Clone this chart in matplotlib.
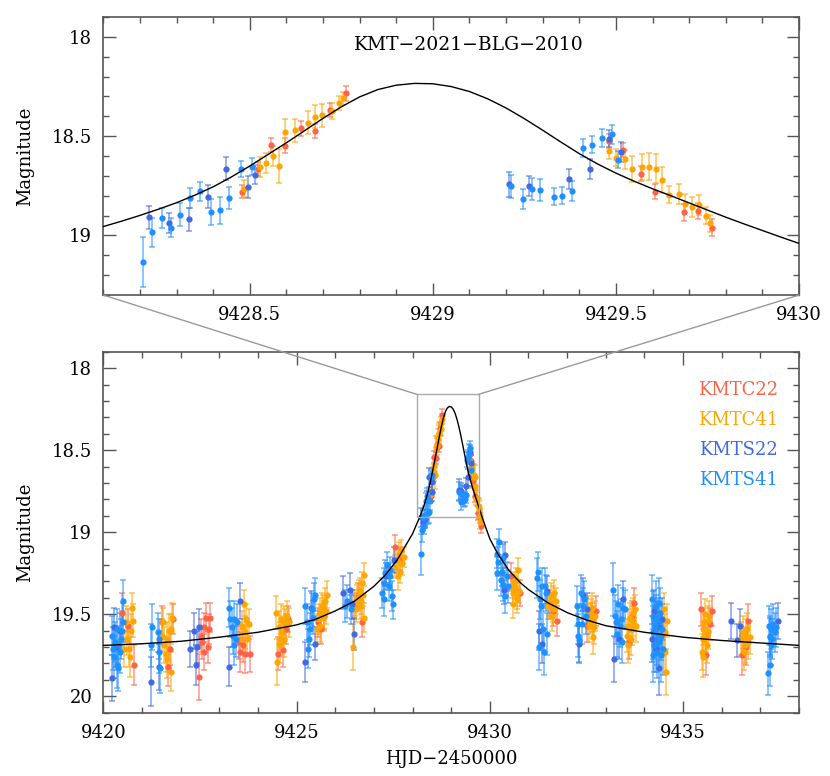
import matplotlib.pyplot as plt
from matplotlib.patches import Rectangle, ConnectionPatch
from matplotlib.ticker import MultipleLocator, FormatStrFormatter

plt.rcParams['font.family'] = 'DejaVu Serif'
plt.rcParams['font.size'] = 13

# ---- photometry (HJD-2450000, mag, err) ----
# KMTC22
C22_T = [9420.49, 9420.636, 9420.791,
         9421.515, 9421.67, 9421.722, 9421.808,
         9422.471, 9422.514, 9422.557, 9422.6, 9422.617, 9422.652, 9422.704, 9422.729, 9422.772,
         9423.505, 9423.547, 9423.616, 9423.677, 9423.789,
         9424.521, 9424.65, 9424.719, 9424.771,
         9425.546, 9425.632, 9425.718,
         9426.494, 9426.589, 9426.692,
         9427.536, 9427.665,
         9428.480, 9428.523, 9428.559, 9428.595, 9428.641, 9428.677, 9428.718, 9428.763,
         9429.480, 9429.520, 9429.568, 9429.607, 9429.686, 9429.724, 9429.763,
         9430.542, 9430.783,
         9431.558, 9431.645, 9431.731,
         9432.523, 9432.652, 9432.747,
         9433.608, 9433.668, 9433.729,
         9435.46, 9435.589, 9435.693, 9435.736,
         9436.528, 9436.623, 9436.683]
C22_M = [19.49, 19.57, 19.81,
         19.55, 19.82, 19.71, 19.53,
         19.88, 19.63, 19.67, 19.73, 19.58, 19.52, 19.70, 19.59, 19.52,
         19.67, 19.73, 19.69, 19.74, 19.74,
         19.74, 19.72, 19.59, 19.53,
         19.55, 19.59, 19.51,
         19.45, 19.39, 19.55,
         19.09, 19.16,
         18.779, 18.665, 18.544, 18.548, 18.460, 18.474, 18.368, 18.284,
         18.524, 18.569, 18.688, 18.779, 18.884, 18.876, 18.961,
         19.27, 19.37,
         19.45, 19.48, 19.54,
         19.57, 19.52, 19.48,
         19.67, 19.51, 19.43,
         19.47, 19.75, 19.56, 19.48,
         19.75, 19.70, 19.54]
C22_E = [0.12, 0.10, 0.12,
         0.10, 0.12, 0.10, 0.09,
         0.14, 0.10, 0.10, 0.11, 0.09, 0.09, 0.10, 0.09, 0.09,
         0.10, 0.12, 0.10, 0.12, 0.11,
         0.10, 0.10, 0.09, 0.08,
         0.09, 0.09, 0.08,
         0.08, 0.08, 0.09,
         0.07, 0.07,
         0.033, 0.033, 0.037, 0.037, 0.037, 0.037, 0.037, 0.037,
         0.037, 0.037, 0.037, 0.037, 0.042, 0.042, 0.042,
         0.08, 0.08,
         0.08, 0.09, 0.09,
         0.10, 0.09, 0.09,
         0.10, 0.09, 0.09,
         0.10, 0.12, 0.10, 0.09,
         0.12, 0.11, 0.10]

# KMTC41
C41_T = [9420.533, 9420.576, 9420.619, 9420.662, 9420.688, 9420.705, 9420.748, 9420.774,
         9421.524, 9421.55, 9421.567, 9421.61, 9421.636, 9421.653, 9421.696, 9421.739, 9421.756, 9421.782,
         9423.565, 9423.591, 9423.634, 9423.677, 9423.703, 9423.72, 9423.763,
         9424.478, 9424.495, 9424.538, 9424.564, 9424.581, 9424.607, 9424.624, 9424.667, 9424.685, 9424.71, 9424.753, 9424.797,
         9425.529, 9425.572, 9425.598, 9425.615, 9425.658, 9425.684, 9425.701, 9425.744, 9425.77, 9425.787,
         9426.459, 9426.52, 9426.545, 9426.563, 9426.606, 9426.631, 9426.649, 9426.674, 9426.692, 9426.718, 9426.735, 9426.752,
         9427.553, 9427.596, 9427.613, 9427.639, 9427.682, 9427.699, 9427.725, 9427.768,
         9428.483, 9428.527, 9428.544, 9428.562, 9428.580, 9428.597, 9428.624, 9428.660, 9428.679, 9428.696, 9428.724, 9428.744, 9428.755,
         9429.482, 9429.501, 9429.524, 9429.543, 9429.571, 9429.591, 9429.608, 9429.625, 9429.644, 9429.671, 9429.689, 9429.709, 9429.728, 9429.745, 9429.756,
         9430.568, 9430.594, 9430.611, 9430.628, 9430.654, 9430.68, 9430.697, 9430.714, 9430.74, 9430.766,
         9431.515, 9431.541, 9431.584, 9431.601, 9431.627, 9431.645, 9431.67, 9431.688, 9431.713,
         9432.549, 9432.575, 9432.592, 9432.609, 9432.635, 9432.661, 9432.678, 9432.704, 9432.721,
         9433.539, 9433.565, 9433.582, 9433.625, 9433.642, 9433.668, 9433.694, 9433.711, 9433.755, 9433.78,
         9434.504, 9434.53, 9434.539, 9434.556, 9434.573,
         9435.477, 9435.503, 9435.52, 9435.525, 9435.546, 9435.563, 9435.572, 9435.589, 9435.606, 9435.632, 9435.65, 9435.675,
         9436.511, 9436.554, 9436.571, 9436.597, 9436.64, 9436.657, 9436.683, 9436.726]
C41_M = [19.71, 19.55, 19.65, 19.71, 19.76, 19.60, 19.46, 19.54,
         19.63, 19.55, 19.69, 19.74, 19.77, 19.65, 19.60, 19.59, 19.85, 19.52,
         19.65, 19.57, 19.44, 19.61, 19.53, 19.65, 19.56,
         19.49, 19.79, 19.58, 19.69, 19.65, 19.53, 19.61, 19.54, 19.66, 19.56, 19.51, 19.55,
         19.59, 19.53, 19.57, 19.49, 19.45, 19.46, 19.51, 19.42, 19.48, 19.38,
         19.70, 19.43, 19.47, 19.40, 19.37, 19.45, 19.35, 19.42, 19.31, 19.38, 19.26, 19.52,
         19.21, 19.17, 19.27, 19.13, 19.24, 19.11, 19.19, 19.15,
         18.765, 18.653, 18.636, 18.598, 18.650, 18.480, 18.469, 18.432, 18.403, 18.395, 18.373, 18.333, 18.310,
         18.574, 18.608, 18.616, 18.666, 18.655, 18.653, 18.663, 18.720, 18.795, 18.792, 18.840, 18.857, 18.846, 18.901, 18.938,
         19.33, 19.44, 19.37, 19.31, 19.34, 19.29, 19.39, 19.41, 19.23, 19.36,
         19.45, 19.43, 19.39, 19.51, 19.47, 19.41, 19.37, 19.46, 19.42,
         19.48, 19.57, 19.53, 19.50, 19.46, 19.55, 19.64, 19.58, 19.51,
         19.63, 19.69, 19.57, 19.52, 19.65, 19.59, 19.49, 19.54, 19.47, 19.57,
         19.47, 19.73, 19.61, 19.85, 19.54,
         19.73, 19.65, 19.59, 19.76, 19.55, 19.50, 19.66, 19.63, 19.69, 19.54, 19.61, 19.51,
         19.65, 19.61, 19.73, 19.69, 19.63, 19.59, 19.67, 19.64]
C41_E = [0.11, 0.10, 0.10, 0.11, 0.12, 0.10, 0.09, 0.10,
         0.10, 0.09, 0.11, 0.11, 0.12, 0.10, 0.10, 0.09, 0.12, 0.09,
         0.10, 0.09, 0.09, 0.10, 0.09, 0.10, 0.09,
         0.10, 0.14, 0.10, 0.11, 0.10, 0.09, 0.10, 0.09, 0.10, 0.09, 0.09, 0.09,
         0.09, 0.09, 0.10, 0.09, 0.08, 0.08, 0.09, 0.08, 0.08, 0.08,
         0.14, 0.08, 0.08, 0.08, 0.08, 0.08, 0.07, 0.08, 0.07, 0.07, 0.07, 0.09,
         0.07, 0.07, 0.08, 0.07, 0.07, 0.06, 0.07, 0.06,
         0.042, 0.050, 0.050, 0.050, 0.084, 0.067, 0.058, 0.058, 0.058, 0.058, 0.042, 0.033, 0.033,
         0.042, 0.042, 0.047, 0.064, 0.064, 0.067, 0.075, 0.064, 0.042, 0.050, 0.047, 0.050, 0.050, 0.042, 0.042,
         0.07, 0.08, 0.07, 0.07, 0.07, 0.07, 0.08, 0.08, 0.07, 0.07,
         0.08, 0.08, 0.08, 0.09, 0.08, 0.08, 0.08, 0.09, 0.08,
         0.09, 0.10, 0.09, 0.09, 0.09, 0.10, 0.10, 0.10, 0.09,
         0.10, 0.11, 0.10, 0.09, 0.10, 0.10, 0.09, 0.09, 0.09, 0.10,
         0.10, 0.12, 0.11, 0.14, 0.10,
         0.11, 0.10, 0.10, 0.12, 0.09, 0.09, 0.10, 0.10, 0.11, 0.09, 0.10, 0.09,
         0.10, 0.10, 0.11, 0.11, 0.10, 0.10, 0.10, 0.10]

# KMTS22
S22_T = [9420.232, 9420.275, 9420.318, 9420.43,
         9421.24, 9421.437,
         9422.23, 9422.342, 9422.385, 9422.428, 9422.488,
         9423.255, 9423.53,
         9425.227, 9425.383, 9425.486,
         9426.2, 9426.373, 9426.433, 9426.476,
         9427.321, 9427.51,
         9428.225, 9428.278, 9428.333, 9428.385, 9428.436, 9428.495, 9428.515,
         9429.208, 9429.262, 9429.372, 9429.428, 9429.481, 9429.513,
         9430.37, 9430.404,
         9431.283, 9431.343, 9431.489,
         9432.299, 9432.42, 9432.506,
         9433.212, 9433.35, 9433.436,
         9434.203, 9434.254, 9434.297, 9434.34, 9434.384, 9434.444,
         9436.227, 9436.382, 9436.485,
         9437.243, 9437.458]
S22_M = [19.89, 19.58, 19.70, 19.60,
         19.91, 19.82,
         19.71, 19.60, 19.81, 19.70, 19.58,
         19.82, 19.42,
         19.79, 19.46, 19.68,
         19.37, 19.35, 19.44, 19.62,
         19.27, 19.17,
         18.908, 18.939, 18.918, 18.804, 18.665, 18.755, 18.693,
         18.742, 18.750, 18.717, 18.666, 18.512, 18.579,
         19.35, 19.14,
         19.60, 19.68, 19.36,
         19.68, 19.38, 19.47,
         19.77, 19.65, 19.41,
         19.65, 19.48, 19.71, 19.57, 19.83, 19.53,
         19.54, 19.66, 19.57,
         19.64, 19.54]
S22_E = [0.14, 0.12, 0.12, 0.11,
         0.15, 0.14,
         0.11, 0.11, 0.12, 0.10, 0.11,
         0.12, 0.11,
         0.12, 0.10, 0.10,
         0.10, 0.10, 0.09, 0.10,
         0.08, 0.08,
         0.058, 0.050, 0.058, 0.058, 0.058, 0.055, 0.050,
         0.064, 0.050, 0.050, 0.050, 0.042, 0.050,
         0.09, 0.08,
         0.12, 0.12, 0.09,
         0.12, 0.10, 0.10,
         0.14, 0.12, 0.11,
         0.14, 0.13, 0.14, 0.14, 0.16, 0.13,
         0.11, 0.10, 0.10,
         0.12, 0.11]

# KMTS41
S41_T = [9420.215, 9420.249, 9420.275, 9420.309, 9420.344, 9420.361, 9420.378, 9420.387, 9420.421, 9420.447, 9420.473, 9420.499, 9420.516,
         9421.222, 9421.248, 9421.412, 9421.429, 9421.446, 9421.463,
         9423.246, 9423.289, 9423.332, 9423.358, 9423.375, 9423.393, 9423.436, 9423.461,
         9425.21, 9425.27, 9425.296, 9425.313, 9425.356, 9425.4, 9425.425, 9425.443, 9425.486,
         9426.26, 9426.304, 9426.407,
         9427.208, 9427.251, 9427.269, 9427.294, 9427.337, 9427.381, 9427.407, 9427.424, 9427.467, 9427.492,
         9428.207, 9428.232, 9428.260, 9428.284, 9428.310, 9428.338, 9428.363, 9428.395, 9428.418, 9428.442, 9428.477, 9428.506,
         9429.214, 9429.246, 9429.270, 9429.292, 9429.331, 9429.353, 9429.381, 9429.411, 9429.434, 9429.463, 9429.488, 9429.505,
         9430.18, 9430.197, 9430.223, 9430.249, 9430.284, 9430.31, 9430.335, 9430.353, 9430.396, 9430.439, 9430.482,
         9431.231, 9431.257, 9431.266, 9431.3, 9431.317, 9431.343, 9431.386, 9431.403, 9431.429, 9431.455, 9431.472,
         9432.247, 9432.273, 9432.29, 9432.316, 9432.351, 9432.377, 9432.403, 9432.437, 9432.48,
         9433.195, 9433.238, 9433.264, 9433.281, 9433.324, 9433.367, 9433.393, 9433.41, 9433.453, 9433.496,
         9434.185, 9434.211, 9434.228, 9434.232, 9434.246, 9434.271, 9434.289, 9434.297, 9434.315, 9434.332, 9434.358, 9434.375, 9434.384, 9434.401, 9434.418, 9434.427, 9434.452, 9434.47,
         9437.2, 9437.226, 9437.243, 9437.26, 9437.269, 9437.286, 9437.312, 9437.329, 9437.372, 9437.398]
S41_M = [19.63, 19.71, 19.76, 19.67, 19.81, 19.59, 19.83, 19.69, 19.73, 19.65, 19.60, 19.42, 19.55,
         19.69, 19.58, 19.61, 19.65, 19.73, 19.83,
         19.46, 19.53, 19.58, 19.63, 19.53, 19.69, 19.65, 19.55,
         19.45, 19.55, 19.71, 19.65, 19.59, 19.47, 19.52, 19.41, 19.38,
         19.45, 19.42, 19.47,
         19.37, 19.31, 19.41, 19.25, 19.20, 19.33, 19.23, 19.27, 19.39, 19.44,
         19.135, 18.985, 18.913, 18.960, 18.896, 18.812, 18.777, 18.882, 18.874, 18.812, 18.665, 18.653,
         18.753, 18.817, 18.767, 18.770, 18.804, 18.800, 18.775, 18.559, 18.542, 18.509, 18.490, 18.619,
         19.25, 19.13, 19.18, 19.06, 19.29, 19.24, 19.16, 19.32, 19.39, 19.27, 19.33,
         19.28, 19.24, 19.70, 19.41, 19.45, 19.33, 19.59, 19.73, 19.33, 19.37, 19.62,
         19.45, 19.63, 19.56, 19.66, 19.37, 19.56, 19.45, 19.41, 19.51,
         19.35, 19.51, 19.55, 19.62, 19.44, 19.57, 19.53, 19.67, 19.46, 19.47,
         19.41, 19.51, 19.61, 19.75, 19.69, 19.57, 19.53, 19.45, 19.65, 19.73, 19.55, 19.43, 19.67, 19.49, 19.75, 19.63, 19.59, 19.71,
         19.86, 19.57, 19.81, 19.63, 19.69, 19.59, 19.65, 19.56, 19.61, 19.58]
S41_E = [0.12, 0.13, 0.13, 0.12, 0.14, 0.12, 0.14, 0.12, 0.13, 0.12, 0.12, 0.13, 0.12,
         0.13, 0.14, 0.12, 0.12, 0.13, 0.15,
         0.12, 0.11, 0.12, 0.11, 0.11, 0.12, 0.11, 0.11,
         0.11, 0.11, 0.12, 0.11, 0.10, 0.10, 0.10, 0.10, 0.10,
         0.10, 0.10, 0.09,
         0.09, 0.09, 0.10, 0.08, 0.08, 0.09, 0.08, 0.08, 0.09, 0.09,
         0.126, 0.075, 0.050, 0.050, 0.058, 0.050, 0.047, 0.067, 0.070, 0.055, 0.042, 0.042,
         0.058, 0.050, 0.054, 0.054, 0.042, 0.042, 0.050, 0.045, 0.042, 0.047, 0.047, 0.042,
         0.10, 0.09, 0.09, 0.08, 0.10, 0.09, 0.09, 0.10, 0.10, 0.09, 0.10,
         0.12, 0.12, 0.14, 0.12, 0.12, 0.11, 0.13, 0.14, 0.11, 0.11, 0.13,
         0.12, 0.13, 0.12, 0.13, 0.11, 0.12, 0.11, 0.11, 0.11,
         0.16, 0.13, 0.13, 0.14, 0.12, 0.13, 0.12, 0.13, 0.12, 0.12,
         0.15, 0.15, 0.16, 0.16, 0.16, 0.15, 0.15, 0.15, 0.16, 0.16, 0.15, 0.15, 0.16, 0.15, 0.16, 0.15, 0.15, 0.16,
         0.13, 0.12, 0.13, 0.12, 0.12, 0.12, 0.12, 0.12, 0.12, 0.12]

# best-fit model curve (dense around the peak)
MODEL_T = [9420.0, 9421.0, 9422.0, 9423.0, 9424.0, 9425.0, 9425.5, 9426.0, 9426.5, 9427.0,
           9427.3, 9427.6, 9427.8, 9428.0,
           9428.10, 9428.15, 9428.20, 9428.25, 9428.30, 9428.35, 9428.40, 9428.45, 9428.50, 9428.55,
           9428.60, 9428.65, 9428.70, 9428.75, 9428.80, 9428.85, 9428.90, 9428.95, 9429.00, 9429.05,
           9429.10, 9429.15, 9429.20, 9429.25, 9429.30, 9429.35, 9429.40, 9429.45, 9429.50, 9429.55,
           9429.60, 9429.65, 9429.70, 9429.75, 9429.80, 9429.85, 9429.90, 9429.95, 9430.00,
           9430.2, 9430.5, 9430.8, 9431.0, 9431.5, 9432.0, 9432.5, 9433.0, 9434.0, 9435.0, 9436.0,
           9437.0, 9438.0]
MODEL_M = [19.69, 19.68, 19.665, 19.64, 19.61, 19.565, 19.53, 19.48, 19.42, 19.33,
           19.26, 19.17, 19.09, 19.01,
           18.955, 18.928, 18.899, 18.868, 18.835, 18.797, 18.755, 18.705, 18.650, 18.592,
           18.533, 18.472, 18.410, 18.352, 18.302, 18.265, 18.243, 18.234, 18.236, 18.250,
           18.275, 18.312, 18.358, 18.412, 18.470, 18.530, 18.588, 18.640, 18.686, 18.727,
           18.765, 18.800, 18.836, 18.872, 18.908, 18.942, 18.975, 19.008, 19.040,
           19.13, 19.235, 19.31, 19.35, 19.43, 19.49, 19.535, 19.57, 19.61, 19.64, 19.66,
           19.675, 19.69]

NAMES = ['KMTC22', 'KMTC41', 'KMTS22', 'KMTS41']
COLORS = ['tomato', 'orange', 'royalblue', 'dodgerblue']

# zoom box drawn on the lower panel (HJD, mag)
BOX_X = (9428.11, 9429.71)
BOX_Y = (18.16, 18.91)

fig = plt.figure(figsize=(8.3, 7.76), dpi=100)
ax1 = fig.add_axes([0.1245, 0.6198, 0.8382, 0.3582])
ax2 = fig.add_axes([0.1245, 0.0816, 0.8382, 0.4652])

sets = [(C22_T, C22_M, C22_E), (C41_T, C41_M, C41_E),
        (S22_T, S22_M, S22_E), (S41_T, S41_M, S41_E)]

for ax in (ax1, ax2):
    for (t, m, e), c in zip(sets, COLORS):
        ax.errorbar(t, m, yerr=e, fmt='none', ecolor=c, elinewidth=1.1, capsize=2.2,
                    capthick=1.1, alpha=0.65, zorder=2)
        ax.plot(t, m, 'o', color=c, ms=4.5, mec='none', zorder=3)
    ax.plot(MODEL_T, MODEL_M, color='black', lw=1, zorder=4)
    ax.tick_params(which='both', direction='in', top=True, right=True,
                   color='#555555', width=1)
    ax.tick_params(which='major', length=9, pad=8)
    ax.tick_params(which='minor', length=4.5)
    for s in ax.spines.values():
        s.set_color('#555555')
        s.set_linewidth(1.2)
    ax.xaxis.set_major_formatter(FormatStrFormatter('%g'))
    ax.yaxis.set_major_formatter(FormatStrFormatter('%g'))
    ax.yaxis.set_minor_locator(MultipleLocator(0.1))
    ax.set_ylabel('Magnitude', labelpad=13)

# top panel: zoom on the peak
ax1.set_xlim(9428.1, 9430)
ax1.set_ylim(19.3, 17.9)
ax1.set_xticks([9428.5, 9429, 9429.5, 9430])
ax1.set_yticks([18, 18.5, 19])
ax1.xaxis.set_minor_locator(MultipleLocator(0.1))
ax1.text(0.526, 0.90, 'KMT\u22122021\u2212BLG\u22122010', transform=ax1.transAxes,
         ha='center', va='center', fontsize=13.5)

# bottom panel: whole event
ax2.set_xlim(9420, 9438)
ax2.set_ylim(20.1, 17.9)
ax2.set_xticks([9420, 9425, 9430, 9435])
ax2.set_yticks([18, 18.5, 19, 19.5, 20])
ax2.xaxis.set_minor_locator(MultipleLocator(1))
ax2.set_xlabel('HJD\u22122450000', labelpad=6)

for i, (name, c) in enumerate(zip(NAMES, COLORS)):
    ax2.text(0.97, 0.894 - i * 0.083, name, color=c, transform=ax2.transAxes,
             ha='right', va='center', fontsize=13)

# zoom box + connecting lines
ax2.add_patch(Rectangle((BOX_X[0], BOX_Y[0]), BOX_X[1] - BOX_X[0], BOX_Y[1] - BOX_Y[0],
                        fill=False, edgecolor='#aaaaaa', lw=1, zorder=5))
for xa, xb in ((0, BOX_X[0]), (1, BOX_X[1])):
    con = ConnectionPatch(xyA=(xa, 0), coordsA=ax1.transAxes,
                          xyB=(xb, BOX_Y[0]), coordsB=ax2.transData,
                          color='#999999', lw=1)
    fig.add_artist(con)

fig.savefig('out.png', dpi=100)
